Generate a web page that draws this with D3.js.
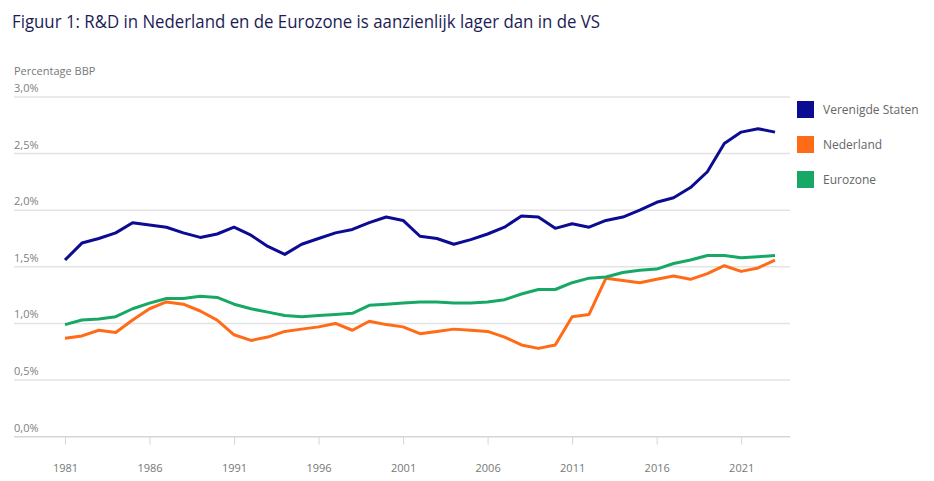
<!DOCTYPE html>
<html>
<head>
<meta charset="utf-8">
<script src="https://cdn.jsdelivr.net/npm/d3@7"></script>
<style>
  body { margin: 0; background: #fff; }
  text { font-family: "Open Sans", "Noto Sans", sans-serif; }
</style>
</head>
<body>
<svg id="chart" width="934" height="481"></svg>
<script>
'use strict';
// Jaren en R&D-uitgaven als percentage BBP
var years = d3.range(1981, 2024);
var vsValues = [1.56, 1.71, 1.75, 1.80, 1.89, 1.87, 1.85, 1.80, 1.76, 1.79, 1.85, 1.78, 1.68, 1.61, 1.70, 1.75, 1.80, 1.83, 1.89,
                1.94, 1.91, 1.77, 1.75, 1.70, 1.74, 1.79, 1.85, 1.95, 1.94, 1.84, 1.88, 1.85, 1.91, 1.94, 2.00, 2.07, 2.11, 2.20,
                2.34, 2.59, 2.69, 2.72, 2.69];
var nlValues = [0.87, 0.89, 0.94, 0.92, 1.03, 1.13, 1.19, 1.17, 1.11, 1.03, 0.90, 0.85, 0.88, 0.93, 0.95, 0.97, 1.00, 0.94, 1.02,
                0.99, 0.97, 0.91, 0.93, 0.95, 0.94, 0.93, 0.88, 0.81, 0.78, 0.81, 1.06, 1.08, 1.40, 1.38, 1.36, 1.39, 1.42, 1.39,
                1.44, 1.51, 1.46, 1.49, 1.56];
var ezValues = [0.99, 1.03, 1.04, 1.06, 1.13, 1.18, 1.22, 1.22, 1.24, 1.23, 1.17, 1.13, 1.10, 1.07, 1.06, 1.07, 1.08, 1.09, 1.16,
                1.17, 1.18, 1.19, 1.19, 1.18, 1.18, 1.19, 1.21, 1.26, 1.30, 1.30, 1.36, 1.40, 1.41, 1.45, 1.47, 1.48, 1.53, 1.56,
                1.60, 1.60, 1.58, 1.59, 1.60];
var seriesNames = ['Verenigde Staten', 'Nederland', 'Eurozone'];
var seriesColors = ['#0c0c92', '#ff6b17', '#17a866'];
var yTicks = [0, 0.5, 1, 1.5, 2, 2.5, 3];
var xTicks = [1981, 1986, 1991, 1996, 2001, 2006, 2011, 2016, 2021];

var series = [vsValues, nlValues, ezValues].map(function(vals, i) {
    return { name: seriesNames[i], color: seriesColors[i],
             points: vals.map(function(v, j) { return { year: years[j], value: v }; }) };
});

var svg = d3.select('#chart');

var x = d3.scaleLinear().domain([1981, 2023]).range([65, 775]);
var y = d3.scaleLinear().domain([0, 3]).range([436.7, 97]);
var fmt = function(v) { return d3.format('.1f')(v).replace('.', ',') + '%'; };

// Titel
svg.append('text')
    .attr('x', 12).attr('y', 28)
    .attr('font-size', 17.5).attr('font-weight', 500).attr('fill', '#1c1c55')
    .attr('textLength', 588).attr('lengthAdjust', 'spacingAndGlyphs')
    .text('Figuur 1: R&D in Nederland en de Eurozone is aanzienlijk lager dan in de VS');

svg.append('text')
    .attr('x', 14).attr('y', 75)
    .attr('font-size', 11).attr('fill', '#777')
    .text('Percentage BBP');

// Rasterlijnen en y-labels boven de lijnen
var grid = svg.append('g');
grid.selectAll('line').data(yTicks.filter(function(d) { return d > 0; })).enter().append('line')
    .attr('x1', 14).attr('x2', 790)
    .attr('y1', function(d) { return y(d); }).attr('y2', function(d) { return y(d); })
    .attr('stroke', '#e3e3e3').attr('stroke-width', 1.5);
grid.selectAll('text').data(yTicks).enter().append('text')
    .attr('x', 14).attr('y', function(d) { return y(d) - 5; })
    .attr('font-size', 11).attr('fill', '#808080')
    .text(fmt);

// x-as
var xAxis = svg.append('g')
    .attr('transform', 'translate(0,' + y(0) + ')')
    .call(d3.axisBottom(x).tickValues(xTicks).tickFormat(d3.format('d')).tickSize(8).tickSizeOuter(0));
xAxis.select('.domain').attr('d', 'M14,0H790').attr('stroke', '#d6d6d6').attr('stroke-width', 1.5);
xAxis.selectAll('.tick line').attr('stroke', '#d6d6d6');
xAxis.selectAll('.tick text')
    .attr('font-family', '"Open Sans", sans-serif').attr('font-size', 11)
    .attr('fill', '#777').attr('dy', '2.2em');

// Lijnen
var line = d3.line()
    .x(function(d) { return x(d.year); })
    .y(function(d) { return y(d.value); });
svg.append('g').selectAll('path').data(series).enter().append('path')
    .attr('d', function(d) { return line(d.points); })
    .attr('fill', 'none')
    .attr('stroke', function(d) { return d.color; })
    .attr('stroke-width', 3)
    .attr('stroke-linejoin', 'round');

// Legenda
var legend = svg.append('g').selectAll('g').data(series).enter().append('g')
    .attr('transform', function(d, i) { return 'translate(797,' + (101 + i * 35) + ')'; });
legend.append('rect').attr('width', 17).attr('height', 17)
    .attr('fill', function(d) { return d.color; });
legend.append('text').attr('x', 26).attr('y', 13)
    .attr('font-size', 12).attr('fill', '#666')
    .text(function(d) { return d.name; });
</script>
</body>
</html>
